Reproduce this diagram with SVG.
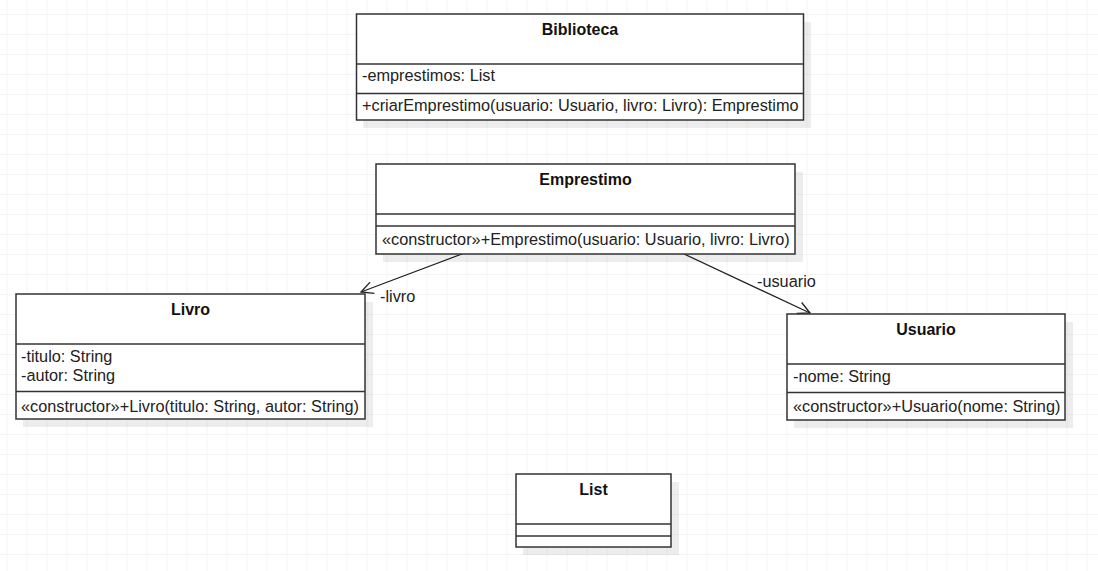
<svg xmlns="http://www.w3.org/2000/svg" width="1098" height="571" viewBox="0 0 1098 571">
  <defs>
    <pattern id="grid" x="6.5" y="14" width="20" height="20" patternUnits="userSpaceOnUse">
      <path d="M0,0 H20 M0,0 V20" fill="none" stroke="#ececec" stroke-width="1.2"/>
    </pattern>
    <marker id="open" markerWidth="16" markerHeight="16" refX="13" refY="8" orient="auto" markerUnits="userSpaceOnUse">
      <path d="M1,2 L13,8 L1,14" fill="none" stroke="#222" stroke-width="1.3"/>
    </marker>
    <style>
      .box { fill: #ffffff; stroke: #333333; stroke-width: 1.5; }
      .shadow { fill: #000000; opacity: 0.07; }
      .div { stroke: #333333; stroke-width: 1.5; }
      .title { font-family: "Liberation Sans", Arial, sans-serif; font-size: 16px; font-weight: bold; fill: #111; text-anchor: middle; }
      .txt { font-family: "Liberation Sans", Arial, sans-serif; font-size: 16.3px; fill: #222; }
      .edge { fill: none; stroke: #222; stroke-width: 1.3; }
    </style>
  </defs>
  <rect width="1098" height="571" fill="#ffffff"/>
  <rect width="1098" height="571" fill="url(#grid)"/>

  <g id="connectors">
    <line class="edge" x1="462" y1="254" x2="361" y2="292" marker-end="url(#open)"/>
    <text class="txt" x="380" y="302">-livro</text>
    <line class="edge" x1="684" y1="254" x2="810" y2="313" marker-end="url(#open)"/>
    <text class="txt" x="757" y="287">-usuario</text>
  </g>

  <g id="biblioteca">
    <rect class="shadow" x="363" y="22" width="448" height="106"/>
    <rect class="box" x="356.5" y="14" width="447" height="106"/>
    <line class="div" x1="356.5" y1="64" x2="803.5" y2="64"/>
    <line class="div" x1="356.5" y1="93.5" x2="803.5" y2="93.5"/>
    <text class="title" x="580" y="35">Biblioteca</text>
    <text class="txt" x="362" y="81">-emprestimos: List</text>
    <text class="txt" x="362" y="111">+criarEmprestimo(usuario: Usuario, livro: Livro): Emprestimo</text>
  </g>

  <g id="emprestimo">
    <rect class="shadow" x="383" y="172" width="420" height="90"/>
    <rect class="box" x="376" y="164" width="419" height="90"/>
    <line class="div" x1="376" y1="214" x2="795" y2="214"/>
    <line class="div" x1="376" y1="226" x2="795" y2="226"/>
    <text class="title" x="585.5" y="185">Emprestimo</text>
    <text class="txt" x="382" y="245">«constructor»+Emprestimo(usuario: Usuario, livro: Livro)</text>
  </g>

  <g id="livro">
    <rect class="shadow" x="23" y="302" width="350" height="125"/>
    <rect class="box" x="16" y="294" width="349" height="125"/>
    <line class="div" x1="16" y1="344" x2="365" y2="344"/>
    <line class="div" x1="16" y1="391.5" x2="365" y2="391.5"/>
    <text class="title" x="190.5" y="315">Livro</text>
    <text class="txt" x="21" y="362">-titulo: String</text>
    <text class="txt" x="21" y="381">-autor: String</text>
    <text class="txt" x="21" y="412">«constructor»+Livro(titulo: String, autor: String)</text>
  </g>

  <g id="usuario">
    <rect class="shadow" x="794" y="322" width="279" height="106"/>
    <rect class="box" x="787" y="314" width="278" height="106"/>
    <line class="div" x1="787" y1="364" x2="1065" y2="364"/>
    <line class="div" x1="787" y1="392.5" x2="1065" y2="392.5"/>
    <text class="title" x="926" y="335">Usuario</text>
    <text class="txt" x="793" y="382">-nome: String</text>
    <text class="txt" x="793" y="412">«constructor»+Usuario(nome: String)</text>
  </g>

  <g id="list">
    <rect class="shadow" x="523" y="482" width="156" height="73"/>
    <rect class="box" x="516" y="474" width="155" height="73"/>
    <line class="div" x1="516" y1="524" x2="671" y2="524"/>
    <line class="div" x1="516" y1="536" x2="671" y2="536"/>
    <text class="title" x="593.5" y="495">List</text>
  </g>
</svg>
